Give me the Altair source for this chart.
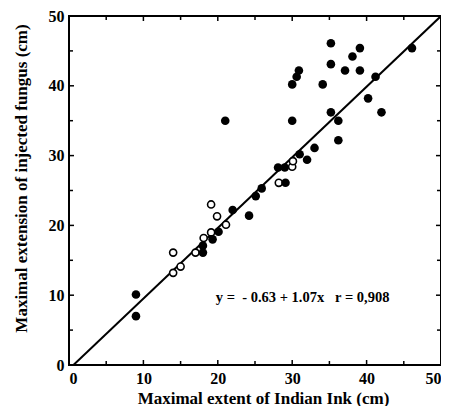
import altair as alt
import pandas as pd

# filled circles (x = Indian ink extent, y = fungus extension)
filled_x = [9, 9, 18, 18, 19.3, 20.1, 22, 24.2, 25.1, 25.9, 28.1, 29, 29.1, 31, 32, 33,
            21, 30, 30, 30.6, 30.9, 35.2, 35.2, 34.1, 37.1, 38.1, 39.1, 39.1, 41.2, 46.1,
            40.2, 42, 35.2, 36.2, 36.2]
filled_y = [10.1, 7, 16.1, 17.1, 18, 19.1, 22.2, 21.4, 24.2, 25.3, 28.3, 28.3, 26.1, 30.2, 29.4, 31.1,
            35, 35, 40.2, 41.3, 42.2, 46.1, 43.1, 40.2, 42.2, 44.2, 45.4, 42.2, 41.3, 45.4,
            38.2, 36.2, 36.2, 35, 32.2]
# open circles
open_x = [14, 14, 15, 17, 18.1, 19.1, 19.9, 19.1, 21.1, 28.2, 30, 30.1]
open_y = [16.1, 13.2, 14.1, 16.1, 18.2, 19, 21.3, 23, 20.1, 26.1, 28.4, 29.2]

# regression line as drawn
line_x = [0.6, 50]
line_y = [0, 50]

major_ticks = [0, 10, 20, 30, 40, 50]
minor_ticks = [5, 15, 25, 35, 45]

NB = "\u00a0"
eq_text = f"y ={NB}{NB}- 0.63 + 1.07x{NB}{NB}{NB}r = 0,908"
eq_x = [31.4]
eq_y = [9.6]

W, H = 372, 349
FONT = "Liberation Serif"

xs = alt.Scale(domain=[0, 50], nice=False)
ys = alt.Scale(domain=[0, 50], nice=False)

df_f = pd.DataFrame({"x": filled_x, "y": filled_y})
df_o = pd.DataFrame({"x": open_x, "y": open_y})
df_l = pd.DataFrame({"x": line_x, "y": line_y})
df_maj = pd.DataFrame({"v": major_ticks})
df_min = pd.DataFrame({"v": minor_ticks})
df_t = pd.DataFrame({"x": eq_x, "y": eq_y, "t": [eq_text]})

x_axis = alt.Axis(values=major_ticks, ticks=False, domain=False, grid=False,
                  labelPadding=5, titlePadding=4, titleX=194,
                  title="Maximal extent of Indian Ink (cm)")
y_axis = alt.Axis(values=major_ticks, ticks=False, domain=False, grid=False,
                  labelPadding=5, titlePadding=18, titleY=162,
                  title="Maximal extension of injected fungus (cm)")

base_line = alt.Chart(df_l).mark_line(color="black", strokeWidth=2, clip=True).encode(
    x=alt.X("x:Q", scale=xs, axis=x_axis),
    y=alt.Y("y:Q", scale=ys, axis=y_axis),
)

pts_f = alt.Chart(df_f).mark_point(shape="circle", filled=True, color="black", size=74, opacity=1).encode(
    x=alt.X("x:Q", scale=xs), y=alt.Y("y:Q", scale=ys))
pts_o = alt.Chart(df_o).mark_point(shape="circle", filled=True, fill="white", stroke="black",
                                   strokeWidth=1.6, size=50, opacity=1).encode(
    x=alt.X("x:Q", scale=xs), y=alt.Y("y:Q", scale=ys))

def ticks(df, ln):
    b = alt.Chart(df).mark_rule(color="black", strokeWidth=1.5)
    return [
        b.encode(x=alt.X("v:Q", scale=xs), y=alt.value(H), y2=alt.value(H - ln)),
        b.encode(x=alt.X("v:Q", scale=xs), y=alt.value(0), y2=alt.value(ln)),
        b.encode(y=alt.Y("v:Q", scale=ys), x=alt.value(0), x2=alt.value(ln)),
        b.encode(y=alt.Y("v:Q", scale=ys), x=alt.value(W), x2=alt.value(W - ln)),
    ]

txt = alt.Chart(df_t).mark_text(font=FONT, fontWeight="bold", fontSize=14.5, color="black",
                                baseline="middle", align="center").encode(
    x=alt.X("x:Q", scale=xs), y=alt.Y("y:Q", scale=ys), text="t:N")

chart = alt.layer(base_line, *ticks(df_maj, 5), *ticks(df_min, 4), pts_o, pts_f, txt).properties(
    width=W, height=H,
    autosize="none",
    padding={"left": 61, "top": 8, "right": 0, "bottom": 41},
).configure_view(stroke="black", strokeWidth=2).configure_axis(
    labelFont=FONT, labelFontWeight="bold", labelFontSize=16, labelColor="black",
    titleFont=FONT, titleFontWeight="bold", titleFontSize=17, titleColor="black",
)

chart.save("out.html", embed_options={"renderer": "svg", "actions": False})
